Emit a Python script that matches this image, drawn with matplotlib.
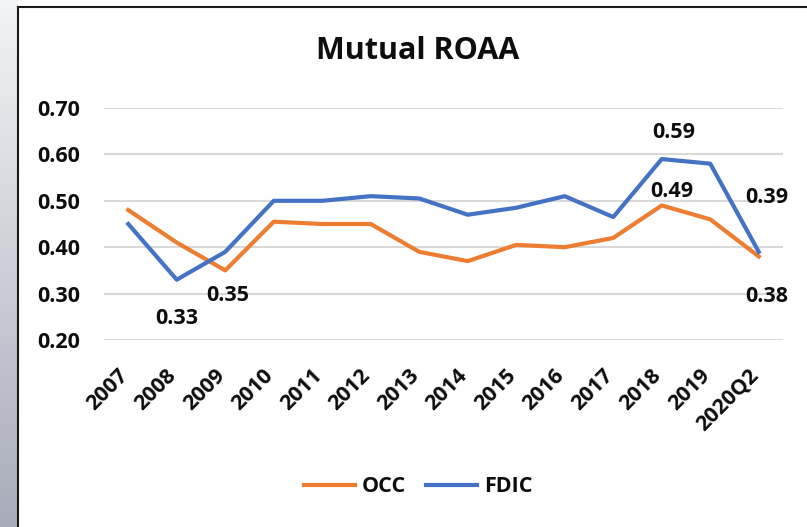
import matplotlib
matplotlib.use('Agg')
import matplotlib.pyplot as plt
from matplotlib.lines import Line2D
import matplotlib.transforms as mtrans
import numpy as np

plt.rcParams['font.family'] = ['Open Sans', 'DejaVu Sans']
plt.rcParams['font.weight'] = 'bold'

# data
years = ['2007', '2008', '2009', '2010', '2011', '2012', '2013',
         '2014', '2015', '2016', '2017', '2018', '2019', '2020Q2']
occ = [0.48, 0.41, 0.35, 0.455, 0.45, 0.45, 0.39,
       0.37, 0.405, 0.40, 0.42, 0.49, 0.46, 0.38]
fdic = [0.45, 0.33, 0.39, 0.50, 0.50, 0.51, 0.505,
        0.47, 0.485, 0.51, 0.465, 0.59, 0.58, 0.39]
yticks = [0.20, 0.30, 0.40, 0.50, 0.60, 0.70]

orange = '#ED7D31'
blue = '#4472C4'
txt = '#0d0d0d'

W, H = 807, 527
fig = plt.figure(figsize=(W / 100, H / 100), dpi=100)
fig.patch.set_facecolor('white')

# grey strip on the left edge
strip = fig.add_axes([0, 0, 18 / W, 1])
grad = np.linspace(0, 1, 256).reshape(-1, 1)
strip.imshow(grad, aspect='auto', cmap=matplotlib.colors.LinearSegmentedColormap.from_list(
    'g', ['#f3f4f6', '#a8acba']), extent=[0, 1, 0, 1], origin='upper')
strip.axis('off')

# chart border (top and left)
fig.add_artist(Line2D([18 / W, 18 / W], [0, 1 - 7 / H], transform=fig.transFigure,
                      color='#1a1a1a', lw=1.5))
fig.add_artist(Line2D([18 / W, 1], [1 - 7 / H, 1 - 7 / H], transform=fig.transFigure,
                      color='#1a1a1a', lw=1.5))

ax = fig.add_axes([104 / W, (H - 340) / H, 679 / W, 232 / H])
x = np.arange(len(years))
ax.plot(x, occ, color=orange, lw=3, solid_joinstyle='round', label='OCC', zorder=3)
ax.plot(x, fdic, color=blue, lw=3, solid_joinstyle='round', label='FDIC', zorder=3)

ax.set_xlim(-0.5, len(years) - 0.5)
ax.set_ylim(0.2, 0.7)
ax.set_yticks(yticks)
ax.set_yticklabels(['%.2f' % v for v in yticks], fontsize=15.5, color=txt)
ax.set_xticks(x)
ax.set_xticklabels(years, rotation=45, ha='right', va='top', fontsize=15.5, color=txt)
ax.tick_params(axis='y', length=0, pad=17)
ax.tick_params(axis='x', length=0, pad=18)
# nudge rotated labels a little to the right, like the original
shift = mtrans.ScaledTranslation(4 / 100, 0, fig.dpi_scale_trans)
for t in ax.get_xticklabels():
    t.set_transform(t.get_transform() + shift)
ax.grid(axis='y', color='#d9d9d9', lw=1.5)
ax.set_axisbelow(True)
for s in ax.spines.values():
    s.set_visible(False)

# data labels: (series, index, dx, dy) offsets in points
lab = [(fdic, 1, 0, -28), (occ, 2, 2, -18), (fdic, 11, 9, 19),
       (occ, 11, 7, 10), (fdic, 13, 6, 39), (occ, 13, 6, -29)]
for ser, i, dx, dy in lab:
    ax.annotate('%.2f' % ser[i], (x[i], ser[i]), xytext=(dx, dy), textcoords='offset points',
                ha='center', va='center', fontsize=15.5, color=txt, annotation_clip=False)

fig.text(418 / W, 1 - 51 / H, 'Mutual ROAA', ha='center', va='center',
         fontsize=22, fontweight='bold', color=txt)

fig.legend(loc='center', bbox_to_anchor=(418 / W, 1 - 487 / H), ncol=2, frameon=False,
           fontsize=15.5, handlelength=2.4, handletextpad=0.3, columnspacing=0.9,
           labelcolor=txt)

fig.savefig('out.png', dpi=100)
